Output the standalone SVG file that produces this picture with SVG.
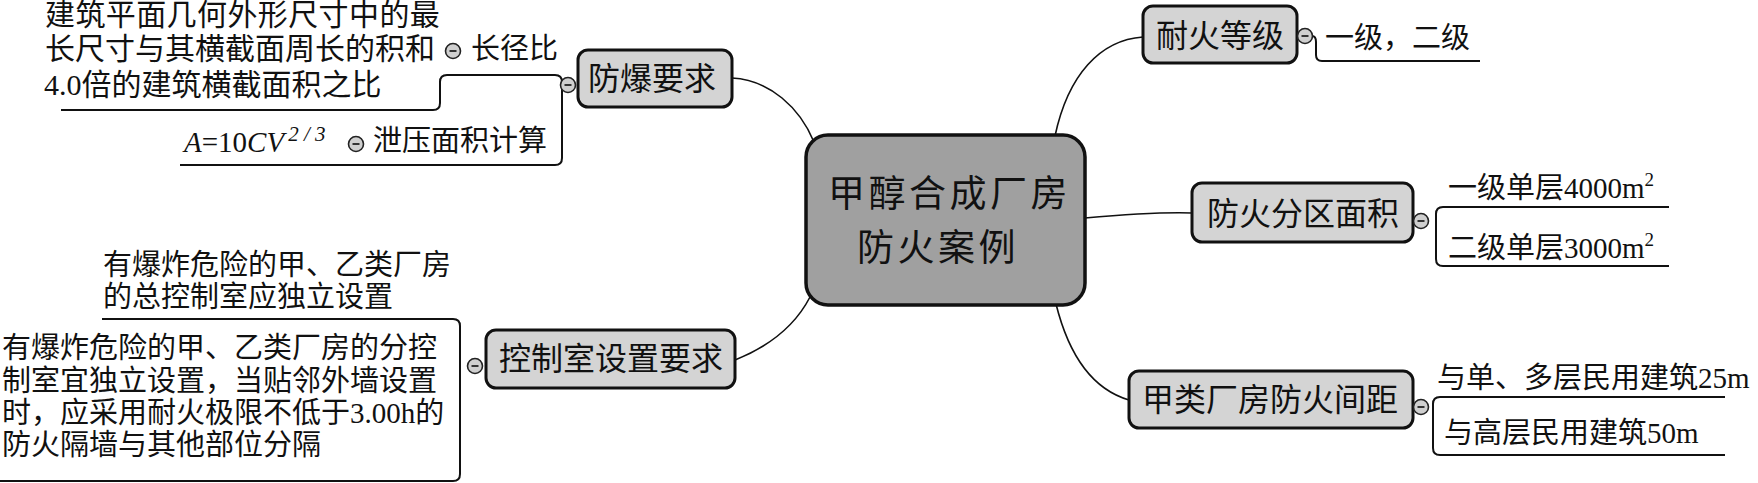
<svg xmlns="http://www.w3.org/2000/svg" width="1758" height="483" viewBox="0 0 1758 483">
<style>
.node{fill:#d4d4d4;stroke:#111;stroke-width:3}
.root{fill:#a0a0a0;stroke:#111;stroke-width:3.5}
.nt{font-family:"Noto Sans CJK SC",sans-serif;font-size:32px;fill:#111;text-anchor:middle}
.rt{font-family:"Noto Sans CJK SC",sans-serif;font-size:37px;letter-spacing:3.5px;fill:#111}
.ct{font-family:"Liberation Serif","Noto Sans CJK SC",serif;font-size:29px;fill:#111}
.big{font-size:30px}
.link{fill:none;stroke:#111;stroke-width:1.6}
.br{fill:none;stroke:#111;stroke-width:2}
.btn circle{fill:#cfcfcf;stroke:#222;stroke-width:1.6}
.btn line{stroke:#222;stroke-width:1.8}
</style>
<defs>
<g id="minus" class="btn"><circle cx="0" cy="0" r="7.5"/><line x1="-3.5" y1="0" x2="3.5" y2="0"/></g>
</defs>
<rect width="1758" height="483" fill="#fff"/>

<g id="connectors">
<path class="link" d="M732 78 C770 80 800 108 814 142"/>
<path class="link" d="M735 360 C770 346 795 326 810 297"/>
<path class="link" d="M1055 136 C1068 75 1100 40 1143 37"/>
<path class="link" d="M1085 218 C1130 214 1160 212 1192 213"/>
<path class="link" d="M1056 304 C1070 360 1095 390 1129 400"/>
<path class="br" d="M61 110 L433 110 Q440 110 440 103 L440 82 Q440 75 447 75 L555 75 Q562 75 562 82 L562 158 Q562 165 555 165 L180 165"/>
<path class="br" d="M102 319 L453 319 Q460 319 460 326 L460 474 Q460 481 453 481 L0 481"/>
<path class="br" d="M1312 36 Q1316 36 1316 42 L1316 55 Q1316 61 1322 61 L1480 61"/>
<path class="br" d="M1669 207 L1443 207 Q1436 207 1436 214 L1436 259 Q1436 266 1443 266 L1669 266"/>
<path class="br" d="M1725 397 L1440 397 Q1433 397 1433 404 L1433 448 Q1433 455 1440 455 L1725 455"/>
</g>

<g id="root">
<rect class="root" x="806" y="135" width="279" height="170" rx="22"/>
<text class="rt" x="828" y="207">甲醇合成厂房</text>
<text class="rt" x="857" y="261">防火案例</text>
</g>

<g id="n-fangbao">
<rect class="node" x="578" y="50" width="154" height="57" rx="10"/>
<text class="nt" x="652" y="90">防爆要求</text>
<use href="#minus" x="568" y="85"/>
</g>
<g id="n-changjingbi">
<text class="ct" x="471" y="59">长径比</text>
<use href="#minus" x="453" y="51"/>
</g>
<g id="n-changjingbi-def">
<text class="ct big" x="45" y="25" letter-spacing="0.4">建筑平面几何外形尺寸中的最</text>
<text class="ct big" x="45" y="59">长尺寸与其横截面周长的积和</text>
<text class="ct big" x="44" y="95">4.0倍的建筑横截面积之比</text>
</g>
<g id="n-xieya">
<text class="ct" x="373" y="151">泄压面积计算</text>
<use href="#minus" x="356" y="144"/>
</g>
<g id="n-formula">
<text class="ct" x="184" y="152"><tspan font-style="italic">A</tspan>=10<tspan font-style="italic">CV</tspan><tspan font-style="italic" font-size="21" dy="-11" dx="4">2 / 3</tspan></text>
</g>

<g id="n-kongzhishi">
<rect class="node" x="486" y="330" width="249" height="58" rx="10"/>
<text class="nt" x="611" y="370">控制室设置要求</text>
<use href="#minus" x="475" y="366"/>
</g>
<g id="n-zong">
<text class="ct" x="103" y="275">有爆炸危险的甲、乙类厂房</text>
<text class="ct" x="103" y="307">的总控制室应独立设置</text>
</g>
<g id="n-fen">
<text class="ct" x="2" y="358">有爆炸危险的甲、乙类厂房的分控</text>
<text class="ct" x="2" y="391">制室宜独立设置，当贴邻外墙设置</text>
<text class="ct" x="2" y="423">时，应采用耐火极限不低于3.00h的</text>
<text class="ct" x="2" y="455">防火隔墙与其他部位分隔</text>
</g>

<g id="n-naihuo">
<rect class="node" x="1143" y="6" width="154" height="57" rx="10"/>
<text class="nt" x="1220" y="47">耐火等级</text>
<use href="#minus" x="1305" y="36"/>
</g>
<g id="n-naihuo-c">
<text class="ct" x="1325" y="48">一级，二级</text>
</g>

<g id="n-fenqu">
<rect class="node" x="1192" y="183" width="221" height="59" rx="10"/>
<text class="nt" x="1303" y="225">防火分区面积</text>
<use href="#minus" x="1421" y="221"/>
</g>
<g id="n-fenqu-1">
<text class="ct" x="1448" y="198">一级单层4000m<tspan font-size="19" dy="-12">2</tspan></text>
</g>
<g id="n-fenqu-2">
<text class="ct" x="1448" y="258">二级单层3000m<tspan font-size="19" dy="-12">2</tspan></text>
</g>

<g id="n-jianju">
<rect class="node" x="1129" y="371" width="284" height="57" rx="10"/>
<text class="nt" x="1270" y="411">甲类厂房防火间距</text>
<use href="#minus" x="1421" y="407"/>
</g>
<g id="n-jianju-1">
<text class="ct" x="1437" y="388" font-size="29.6">与单、多层民用建筑25m</text>
</g>
<g id="n-jianju-2">
<text class="ct" x="1444" y="443">与高层民用建筑50m</text>
</g>
</svg>
